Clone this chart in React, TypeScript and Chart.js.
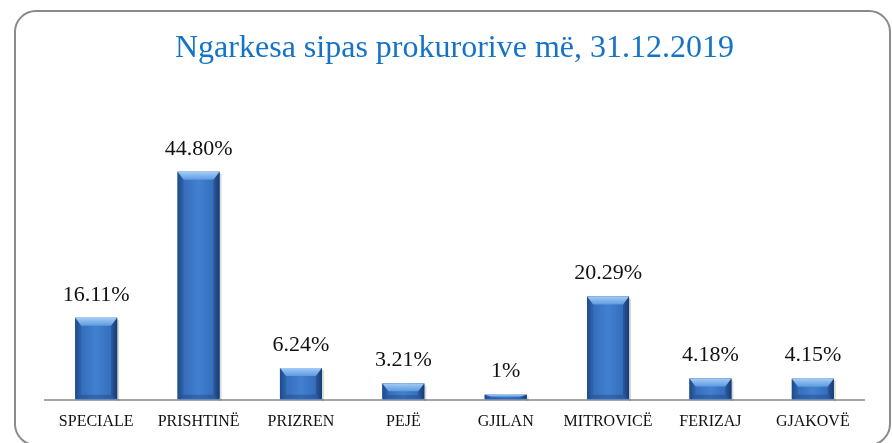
import React, { useEffect, useRef } from "react";
import { Chart, registerables } from "chart.js";

Chart.register(...registerables);

const categories = ["SPECIALE", "PRISHTINË", "PRIZREN", "PEJË", "GJILAN", "MITROVICË", "FERIZAJ", "GJAKOVË"];
const values = [16.11, 44.8, 6.24, 3.21, 1, 20.29, 4.18, 4.15];
const valueLabels = ["16.11%", "44.80%", "6.24%", "3.21%", "1%", "20.29%", "4.18%", "4.15%"];
const titleText = "Ngarkesa sipas prokurorive më, 31.12.2019";

const SERIF = "'Liberation Serif', 'DejaVu Serif', serif";

const bevelPlugin = {
  id: "bevel",
  afterDatasetsDraw(chart: any) {
    const ctx = chart.ctx;
    const meta = chart.getDatasetMeta(0);
    meta.data.forEach((bar: any, i: number) => {
      const { x, y, base, width } = bar.getProps(["x", "y", "base", "width"], true);
      const l = x - width / 2;
      const r = x + width / 2;
      const t = y;
      const b = base - 1;
      const h = b - t;
      const d = Math.min(8, h / 2);
      const s = Math.min(6, width / 4);
      ctx.save();
      // shadow
      ctx.fillStyle = "rgba(0,0,0,0.15)";
      ctx.fillRect(r, t + 2, 2, h);
      // body gradient
      const g = ctx.createLinearGradient(l, 0, r, 0);
      g.addColorStop(0, "#1f4c8a");
      g.addColorStop(0.12, "#346cb9");
      g.addColorStop(0.5, "#4280d0");
      g.addColorStop(0.88, "#346cb9");
      g.addColorStop(1, "#1b4178");
      ctx.fillStyle = g;
      ctx.fillRect(l, t, width, h);
      // top bevel
      const tg = ctx.createLinearGradient(0, t, 0, t + d);
      tg.addColorStop(0, "#a2ccf6");
      tg.addColorStop(1, "#5e9ae0");
      ctx.fillStyle = tg;
      ctx.beginPath();
      ctx.moveTo(l, t);
      ctx.lineTo(r, t);
      ctx.lineTo(r - s, t + d);
      ctx.lineTo(l + s, t + d);
      ctx.closePath();
      ctx.fill();
      // left bevel
      ctx.fillStyle = "rgba(30,70,130,0.3)";
      ctx.beginPath();
      ctx.moveTo(l, t);
      ctx.lineTo(l + s, t + d);
      ctx.lineTo(l + s, b - d / 2);
      ctx.lineTo(l, b);
      ctx.closePath();
      ctx.fill();
      // right bevel
      ctx.fillStyle = "rgba(20,50,100,0.4)";
      ctx.beginPath();
      ctx.moveTo(r, t);
      ctx.lineTo(r - s, t + d);
      ctx.lineTo(r - s, b - d / 2);
      ctx.lineTo(r, b);
      ctx.closePath();
      ctx.fill();
      // bottom darker
      ctx.fillStyle = "rgba(20,50,100,0.3)";
      ctx.beginPath();
      ctx.moveTo(l, b);
      ctx.lineTo(l + s, b - d / 2);
      ctx.lineTo(r - s, b - d / 2);
      ctx.lineTo(r, b);
      ctx.closePath();
      ctx.fill();
      // value label
      ctx.fillStyle = "#111";
      ctx.font = `22px ${SERIF}`;
      ctx.textAlign = "center";
      ctx.textBaseline = "middle";
      ctx.fillText(valueLabels[i], x, t - 23);
      ctx.restore();
    });
  },
};

export default function App() {
  const ref = useRef<HTMLCanvasElement>(null);
  useEffect(() => {
    if (!ref.current) return;
    const chart = new Chart(ref.current, {
      type: "bar",
      data: {
        labels: categories,
        datasets: [
          {
            data: values,
            backgroundColor: "#3a72c2",
            borderWidth: 0,
            barPercentage: 0.41,
            categoryPercentage: 1,
          },
        ],
      },
      options: {
        animation: false,
        responsive: false,
        maintainAspectRatio: false,
        layout: { padding: { left: 45, right: 28, top: 0, bottom: 0 } },
        plugins: {
          legend: { display: false },
          tooltip: { enabled: false },
          title: {
            display: true,
            text: titleText,
            color: "#1573c6",
            font: { family: SERIF, size: 32, weight: "normal" },
            padding: { top: 29, bottom: 27 },
          },
        },
        scales: {
          x: {
            grid: { display: false, drawTicks: false },
            border: { display: true, color: "#a6a6a6", width: 2 },
            ticks: {
              color: "#111",
              font: { family: SERIF, size: 16 },
              padding: 12,
              maxRotation: 0,
              autoSkip: false,
            },
          },
          y: {
            display: false,
            min: 0,
            max: 60,
          },
        },
      },
      plugins: [bevelPlugin],
    });
    return () => chart.destroy();
  }, []);

  return (
    <div style={{ position: "fixed", left: 0, top: 0, width: 892, height: 443, overflow: "hidden", background: "#fff" }}>
      <div
        style={{
          position: "absolute",
          left: 14,
          top: 10,
          width: 877,
          height: 436,
          boxSizing: "border-box",
          border: "2px solid #8a8a8a",
          borderRadius: 22,
        }}
      />
      <canvas ref={ref} width={892} height={443} style={{ position: "absolute", left: 0, top: 0 }} />
    </div>
  );
}
